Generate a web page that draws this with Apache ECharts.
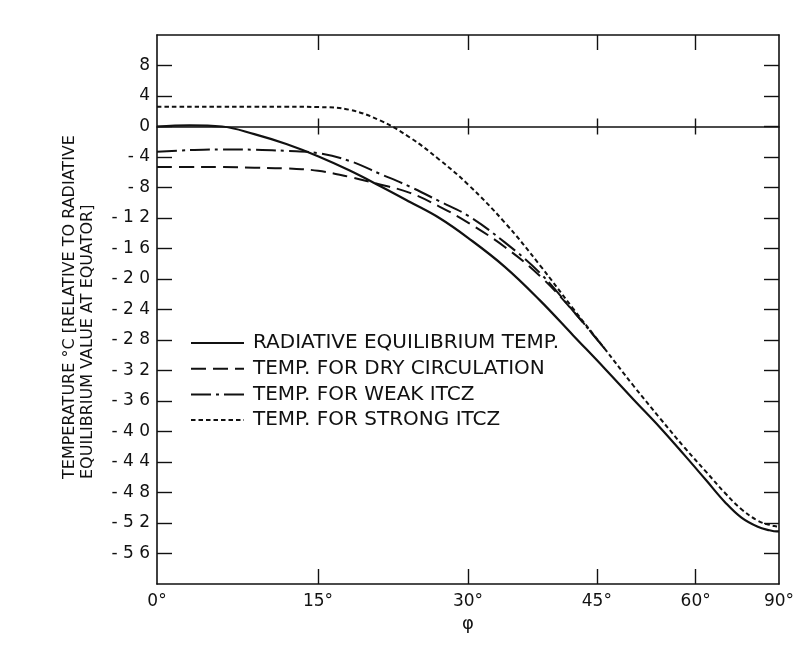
<!DOCTYPE html>
<html><head><meta charset="utf-8">
<script src="https://cdn.jsdelivr.net/npm/echarts@6/dist/echarts.min.js"></script>
<style>html,body{margin:0;padding:0;background:#fff}#c{width:808px;height:648px}</style>
</head><body><div id="c"></div>
<script>
// latitude (degrees)
const PHI = [0,3,6,9,12,15,18,21,24,27,30,34,38,42,46,50,54,58,62,66,70,75,80,85,90];
// temperature relative to radiative equilibrium value at equator (°C)
const RADIATIVE = [0,0.15,0,-1.0,-2.3,-3.9,-5.75,-7.8,-9.9,-12.0,-14.6,-18.4,-22.8,-27.4,-31.7,-35.8,-39.5,-43.1,-46.4,-49.3,-51.3,-52.5,-52.95,-53.1,-53.1];
const DRY = [-5.3,-5.3,-5.3,-5.4,-5.5,-5.8,-6.6,-7.6,-8.7,-10.5,-12.6,-15.8,-19.6,-24.2,-29.1];
const WEAK = [-3.3,-3.1,-3.0,-3.05,-3.2,-3.5,-4.5,-6.2,-7.9,-9.8,-11.7,-15.2,-19.2,-24.2,-29.1];
const STRONG = [2.6,2.6,2.6,2.6,2.6,2.55,2.2,0.8,-1.45,-4.35,-7.6,-12.6,-18.2,-23.9,-29.1,-34.0,-38.3,-42.1,-45.3,-48.1,-50.2,-51.7,-52.25,-52.45,-52.5];
// tick labels
const X_TICKS = [0,15,30,45,60,90];
const Y_TICKS = [-56,-52,-48,-44,-40,-36,-32,-28,-24,-20,-16,-12,-8,-4,0,4,8];
const NAMES = ['RADIATIVE EQUILIBRIUM TEMP.','TEMP. FOR DRY CIRCULATION','TEMP. FOR WEAK ITCZ','TEMP. FOR STRONG ITCZ'];
const Y_TITLE = 'TEMPERATURE °C [RELATIVE TO RADIATIVE\nEQUILIBRIUM VALUE AT EQUATOR]';
const X_TITLE = 'φ';

const D2R = Math.PI / 180;
const sx = d => Math.sin(d * D2R);
const pts = vals => vals.map((v, i) => [sx(PHI[i]), v]);
const FONT = 'DejaVu Sans';
const INK = '#111';
const innerX = X_TICKS.filter(d => d > 0 && d < 90).map(sx);
const labelX = X_TICKS.map(sx);
const xLab = v => Math.round(Math.asin(Math.min(1, v)) / D2R) + '°';
const yLab = v => v < 0 ? '- ' + String(-v).split('').join(' ') : String(v);

const GRID = {left: 157, right: 29, top: 35, bottom: 64};
const axLine = {show: true, onZero: false, lineStyle: {color: INK, width: 1.6}};

function xAxisBase(extra) {
  return Object.assign({
    type: 'value', min: 0, max: 1, gridIndex: 0,
    splitLine: {show: false},
    axisLine: axLine,
    axisTick: {show: true, inside: true, length: 15, customValues: innerX, lineStyle: {color: INK, width: 1.4}},
    axisLabel: {show: false}
  }, extra);
}
function yAxisBase(extra) {
  return Object.assign({
    type: 'value', min: -60, max: 12, interval: 4,
    splitLine: {show: false},
    axisLine: axLine,
    axisTick: {show: true, inside: true, length: 15, customValues: Y_TICKS, lineStyle: {color: INK, width: 1.4}},
    axisLabel: {show: false}
  }, extra);
}

const option = {
  animation: false,
  backgroundColor: '#fff',
  grid: GRID,
  xAxis: [
    xAxisBase({
      position: 'bottom',
      axisLabel: {show: true, customValues: labelX, formatter: xLab, margin: 9,
        fontFamily: FONT, fontSize: 17, color: INK},
      name: X_TITLE, nameLocation: 'middle', nameGap: 30,
      nameTextStyle: {fontFamily: FONT, fontSize: 18, color: INK}
    }),
    xAxisBase({position: 'top'}),
    xAxisBase({position: 'bottom',
      axisLine: {show: true, onZero: true, onZeroAxisIndex: 0, lineStyle: {color: INK, width: 1.6}},
      axisTick: {show: true, inside: true, length: 8, customValues: innerX, lineStyle: {color: INK, width: 1.4}}}),
    xAxisBase({position: 'bottom',
      axisLine: {show: false, onZero: true, onZeroAxisIndex: 0},
      axisTick: {show: true, inside: false, length: 8, customValues: innerX, lineStyle: {color: INK, width: 1.4}}})
  ],
  yAxis: [
    yAxisBase({position: 'left',
      axisLabel: {show: true, customValues: Y_TICKS, formatter: yLab, margin: 7,
        fontFamily: FONT, fontSize: 17, color: INK}}),
    yAxisBase({position: 'right'})
  ],
  legend: {
    orient: 'vertical', left: 185, top: 328,
    itemWidth: 53, itemHeight: 14, itemGap: 5.7,
    selectedMode: false,
    itemStyle: {opacity: 0, color: 'rgba(0,0,0,0)', borderWidth: 0},
    textStyle: {fontFamily: FONT, fontSize: 20, color: INK, lineHeight: 20, padding: [0, 0, 0, 4]},
    data: NAMES
  },
  graphic: [{
    type: 'text', x: 79, y: 479, rotation: Math.PI / 2, silent: true,
    style: {text: Y_TITLE, fontFamily: FONT, fontSize: 16, lineHeight: 18, fill: INK,
      textAlign: 'left', textVerticalAlign: 'middle'}
  }],
  series: [
    {name: NAMES[0], data: pts(RADIATIVE), lineStyle: {color: INK, width: 2.2, type: 'solid'}},
    {name: NAMES[1], data: pts(DRY), lineStyle: {color: INK, width: 2, type: [15, 7]}},
    {name: NAMES[2], data: pts(WEAK), lineStyle: {color: INK, width: 2, type: [20, 5, 3, 5]}},
    {name: NAMES[3], data: pts(STRONG), lineStyle: {color: INK, width: 2, type: [4.5, 3]}}
  ].map(s => Object.assign({type: 'line', xAxisIndex: 0, yAxisIndex: 0, symbol: 'none',
    smooth: 0.4, silent: true, itemStyle: {color: INK}}, s))
};
const chart = echarts.init(document.getElementById('c'), null, {renderer: 'canvas'});
chart.setOption(option);
</script></body></html>
